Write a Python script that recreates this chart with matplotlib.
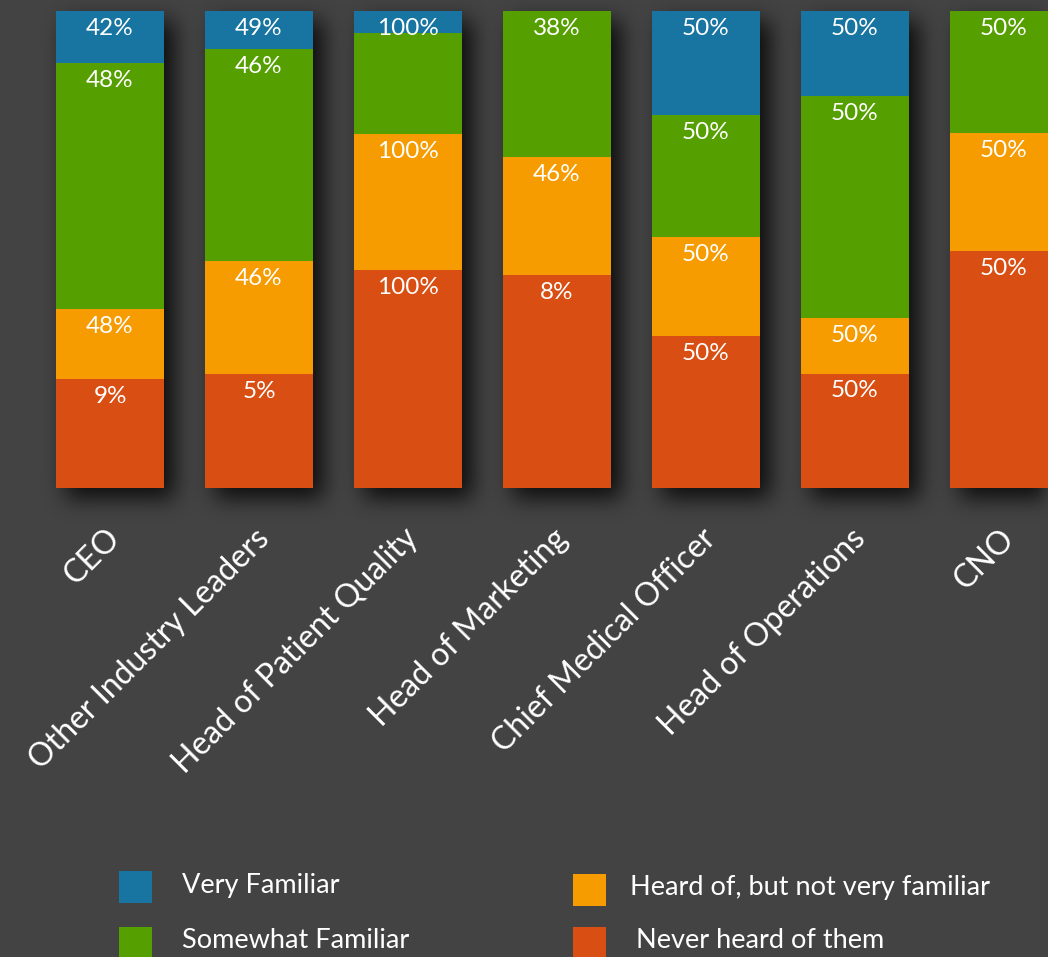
import numpy as np
import matplotlib
matplotlib.use("Agg")
import matplotlib.pyplot as plt
from matplotlib.patches import Rectangle
from matplotlib.transforms import ScaledTranslation

plt.rcParams['font.family'] = ['Lato', 'DejaVu Sans']

# ---- data -------------------------------------------------------------
roles = ["CEO", "Other Industry Leaders", "Head of Patient Quality",
         "Head of Marketing", "Chief Medical Officer", "Head of Operations", "CNO"]

series_names = ["Very Familiar", "Somewhat Familiar",
                "Heard of, but not very familiar", "Never heard of them"]

# share of each bar taken by each segment (bars stack to 100)
very_familiar     = [10.9, 8.0, 4.6, 0.0, 21.8, 17.8, 0.0]
somewhat_familiar = [51.6, 44.4, 21.2, 30.6, 25.6, 46.5, 25.6]
heard_of          = [14.7, 23.7, 28.5, 24.7, 20.8, 11.7, 24.7]
never_heard       = [22.8, 23.9, 45.7, 44.7, 31.8, 24.0, 49.7]

# printed percentages on each segment
very_labels     = ["42%", "49%", "100%", "", "50%", "50%", ""]
somewhat_labels = ["48%", "46%", "", "38%", "50%", "50%", "50%"]
heard_labels    = ["48%", "46%", "100%", "46%", "50%", "50%", "50%"]
never_labels    = ["9%", "5%", "100%", "8%", "50%", "50%", "50%"]

colors = ["#1874a0", "#55a000", "#f69b00", "#d94f13"]
BG = "#434343"

# ---- figure -----------------------------------------------------------
W, H = 1048, 957
fig = plt.figure(figsize=(W / 100, H / 100), dpi=100, facecolor=BG)

spacing_px = 149.0
first_center_px = 110.0
ax_bottom = (H - 488) / H
ax_top = (H - 11) / H
ax = fig.add_axes([0, ax_bottom, 1, ax_top - ax_bottom])
ax.set_facecolor("none")
ax.set_xlim(-first_center_px / spacing_px, (W - first_center_px) / spacing_px)
ax.set_ylim(0, 100)
for s in ax.spines.values():
    s.set_visible(False)
ax.set_yticks([])

x = np.arange(len(roles))
bar_w = 108 / spacing_px

# stack from the bottom: never, heard, somewhat, very
stack_order = [
    (never_heard, never_labels, colors[3]),
    (heard_of, heard_labels, colors[2]),
    (somewhat_familiar, somewhat_labels, colors[1]),
    (very_familiar, very_labels, colors[0]),
]
base = np.zeros(len(roles))
for vals, labels, col in stack_order:
    vals = np.asarray(vals)
    ax.bar(x, vals, bottom=base, width=bar_w, color=col, linewidth=0, zorder=2)
    tops = base + vals
    for xi, top, v, lab in zip(x, tops, vals, labels):
        if lab and v > 0:
            ax.annotate(lab, xy=(xi, top), xytext=(0, -5), textcoords="offset points",
                        ha="center", va="top", color="white", fontsize=17.5, zorder=3)
    base = tops

ax.set_xticks(x)
ax.set_xticklabels(roles, rotation=45, ha="right", va="center",
                   rotation_mode="anchor", color="white", fontsize=23)
ax.tick_params(axis="x", length=0, pad=33)
nudge = ScaledTranslation(4 / 72, 0, fig.dpi_scale_trans)
for lbl in ax.get_xticklabels():
    lbl.set_transform(lbl.get_transform() + nudge)

# ---- soft drop shadow behind the bars ---------------------------------
def box_blur(a, r, axis):
    a = np.moveaxis(a, axis, -1)
    pad = [(0, 0)] * (a.ndim - 1) + [(r + 1, r)]
    c = np.cumsum(np.pad(a, pad), axis=-1)
    out = (c[..., 2 * r + 1:] - c[..., :-(2 * r + 1)]) / (2 * r + 1)
    return np.moveaxis(out, -1, axis)

mask = np.zeros((H, W))
dx, dy = 10, 10
for xi in x:
    (px0, py0) = ax.transData.transform((xi - bar_w / 2, 0))
    (px1, py1) = ax.transData.transform((xi + bar_w / 2, 100))
    c0, c1 = int(round(px0 + dx)), int(round(px1 + dx))
    r0, r1 = int(round(py0 - dy)), int(round(py1 - dy))
    mask[max(r0, 0):min(r1, H), max(c0, 0):min(c1, W)] = 1.0
for _ in range(3):
    mask = box_blur(mask, 10, 0)
    mask = box_blur(mask, 10, 1)
shadow = np.zeros((H, W, 4))
shadow[..., 3] = np.clip(mask * 0.82, 0, 1)
fig.figimage(shadow, 0, 0, origin="lower", zorder=-1)

# ---- legend -----------------------------------------------------------
def fx(px):
    return px / W

def fy(py):
    return 1 - py / H

legend_slots = [(119, 871), (119, 927), (573, 874), (573, 927)]
text_x = [182, 182, 630, 636]
for (sx, sy), tx, name, col in zip(legend_slots, text_x, series_names, colors):
    fig.add_artist(Rectangle((fx(sx), fy(sy + 32)), 33 / W, 32 / H,
                             transform=fig.transFigure, facecolor=col,
                             edgecolor="none"))
    fig.text(fx(tx), fy(sy + 14), name, color="white", fontsize=19.5,
             ha="left", va="center")

fig.savefig("out.png", dpi=100, facecolor=BG)
